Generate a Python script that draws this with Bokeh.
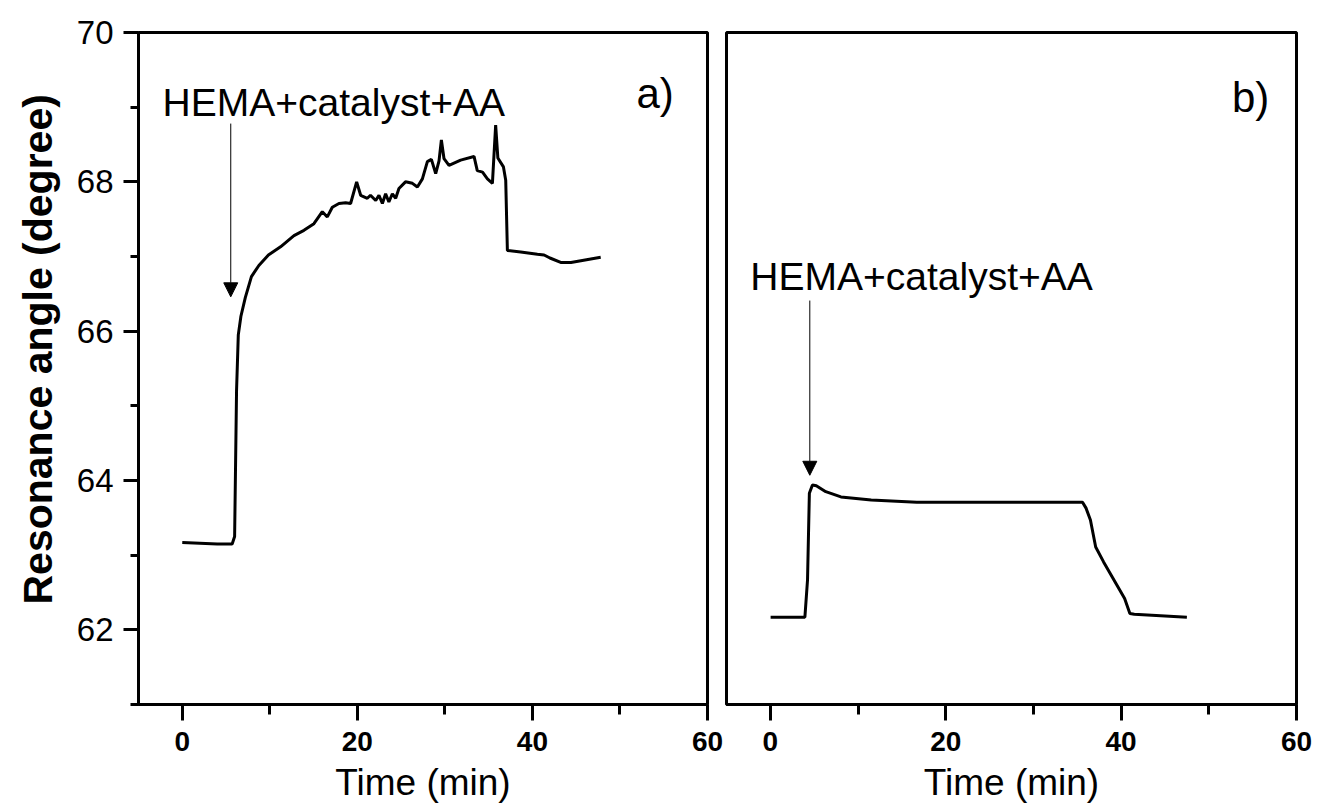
from bokeh.plotting import figure
from bokeh.models import Range1d, FixedTicker, Label, Arrow, NormalHead, Title
from bokeh.layouts import row
from bokeh.embed import file_html
from bokeh.resources import INLINE

# ---- data ----
time_a = [0, 2, 4, 5.7, 5.98, 6.2, 6.4, 6.7, 7.2, 7.9, 8.75, 9.84, 11.23, 12.76, 13.9,
          15.04, 16.0, 16.57, 17.14, 17.9, 18.66, 19.23, 19.92, 20.38, 21.14, 21.5,
          22.1, 22.47, 22.86, 23.23, 23.6, 24.0, 24.38, 24.75, 25.5, 26.29, 26.86,
          27.43, 28.0, 28.46, 28.95, 29.33, 29.6, 29.9, 30.47, 31.8, 33.33, 33.7,
          34.3, 34.86, 35.43, 35.8, 36.05, 36.69, 36.95, 37.14, 38.66, 40.57, 41.33,
          42.0, 43.23, 44.4, 47.8]
angle_a = [63.17, 63.16, 63.15, 63.15, 63.25, 65.2, 65.95, 66.2, 66.45, 66.73, 66.88,
           67.02, 67.13, 67.28, 67.35, 67.44, 67.6, 67.53, 67.66, 67.71, 67.72, 67.71,
           68.0, 67.82, 67.78, 67.82, 67.75, 67.82, 67.71, 67.84, 67.73, 67.84, 67.78,
           67.91, 68.0, 67.98, 67.93, 68.04, 68.27, 68.3, 68.11, 68.28, 68.56, 68.31,
           68.22, 68.29, 68.34, 68.15, 68.13, 68.04, 67.98, 68.76, 68.32, 68.2, 68.02,
           67.08, 67.06, 67.03, 67.02, 66.98, 66.92, 66.92, 66.99]

time_b = [0.03, 3.94, 4.24, 4.45, 4.8, 5.24, 6.32, 8.05, 11.5, 16.7, 24.5, 35.6,
          36.0, 36.5, 37.1, 38.0, 40.4, 41.0, 41.5, 47.5]
angle_b = [62.17, 62.17, 62.67, 63.83, 63.94, 63.93, 63.85, 63.78, 63.74, 63.71,
           63.71, 63.71, 63.63, 63.47, 63.11, 62.91, 62.42, 62.22, 62.21, 62.17]

x_major = [0, 20, 40, 60]
x_minor = [10, 30, 50]
y_major = [62, 64, 66, 68, 70]
y_minor = [61, 63, 65, 67, 69]

x_title = "Time (min)"
y_title = "Resonance angle (degree)"
annot_text = "HEMA+catalyst+AA"
annot_a = {"x": -2.25, "y": 69.06}
annot_b = {"x": -2.28, "y": 66.73}
arrow_a = {"x": 5.54, "y_start": 68.78, "y_end": 66.46}
arrow_b = {"x": 4.5, "y_start": 66.41, "y_end": 64.07}
panel_a = {"text": "a)", "x": 56.15, "y": 69.18}
panel_b = {"text": "b)", "x": 56.9, "y": 69.13}

FONT = "Liberation Sans"


def make_fig(width, border_left, with_y):
    p = figure(width=width, height=805,
               x_range=Range1d(-5, 60), y_range=Range1d(61, 70),
               output_backend="svg", toolbar_location=None,
               y_axis_location="left" if with_y else None,
               min_border_left=border_left, min_border_right=17,
               min_border_top=32, min_border_bottom=100)
    p.grid.visible = False
    p.outline_line_color = "black"
    p.outline_line_width = 3
    p.outline_line_alpha = 1
    p.background_fill_color = "white"
    p.border_fill_color = "white"

    xa = p.xaxis[0]
    xa.ticker = FixedTicker(ticks=x_major, minor_ticks=x_minor)
    xa.axis_line_width = 3
    xa.major_tick_line_width = 3
    xa.minor_tick_line_width = 3
    xa.major_tick_in = 0
    xa.major_tick_out = 16
    xa.minor_tick_in = 0
    xa.minor_tick_out = 10
    xa.major_label_text_font = FONT
    xa.major_label_text_font_size = "28px"
    xa.major_label_text_font_style = "bold"
    xa.major_label_text_color = "black"
    xa.major_label_standoff = 11
    xa.axis_label = x_title
    xa.axis_label_text_font = FONT
    xa.axis_label_text_font_size = "37px"
    xa.axis_label_text_font_style = "normal"
    xa.axis_label_text_color = "black"
    xa.axis_label_standoff = 8

    if with_y:
        ya = p.yaxis[0]
        ya.ticker = FixedTicker(ticks=y_major, minor_ticks=y_minor)
        ya.axis_line_width = 3
        ya.major_tick_line_width = 3
        ya.minor_tick_line_width = 3
        ya.major_tick_in = 0
        ya.major_tick_out = 15
        ya.minor_tick_in = 0
        ya.minor_tick_out = 8
        ya.major_label_text_font = FONT
        ya.major_label_text_font_size = "33px"
        ya.major_label_text_color = "black"
        ya.major_label_standoff = 10
        # the y title sits above the axis centre: a left-side title with an offset
        p.add_layout(Title(text=y_title, align="left", offset=100,
                           text_font=FONT, text_font_size="41px",
                           text_font_style="bold", text_color="black",
                           standoff=25), "left")
    return p


p1 = make_fig(724, 138, True)
p2 = make_fig(589, 2, False)

p1.line(time_a, angle_a, line_color="black", line_width=3)
p2.line(time_b, angle_b, line_color="black", line_width=3)

for p, ann, arr, pan in [(p1, annot_a, arrow_a, panel_a), (p2, annot_b, arrow_b, panel_b)]:
    p.add_layout(Label(x=ann["x"], y=ann["y"], text=annot_text, text_font=FONT,
                       text_font_size="39px", text_color="black",
                       text_baseline="alphabetic", text_align="left"))
    p.add_layout(Label(x=pan["x"], y=pan["y"], text=pan["text"], text_font=FONT,
                       text_font_size="42px", text_color="black",
                       text_baseline="alphabetic", text_align="right"))
    p.add_layout(Arrow(x_start=arr["x"], y_start=arr["y_start"],
                       x_end=arr["x"], y_end=arr["y_end"],
                       line_color="black", line_width=1,
                       end=NormalHead(size=14, fill_color="black",
                                      line_color="black", line_width=1)))

layout = row(p1, p2)
open("out.html", "w").write(file_html(layout, INLINE))
